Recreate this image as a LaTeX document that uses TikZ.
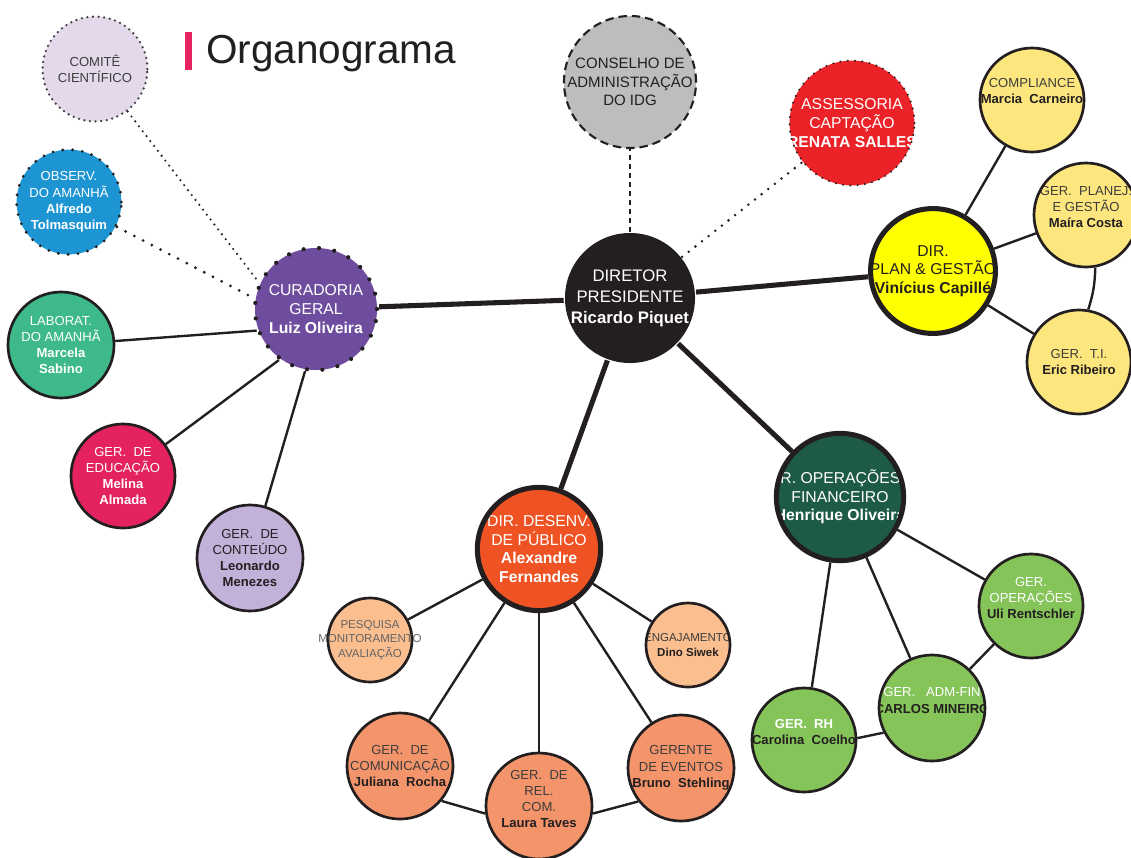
\documentclass[tikz,border=0pt]{standalone}
\usepackage{fontspec}
\setmainfont{Liberation Sans}
\usepackage{xcolor}
\usepackage{tikz}
\pgfdeclarelayer{bg}
\pgfsetlayers{bg,main}
\definecolor{linec}{HTML}{231F20}
\definecolor{cGrey}{HTML}{3D3D3D}
\definecolor{cBar}{HTML}{E6235F}
\definecolor{cCom}{HTML}{E3D9EB}
\definecolor{cObs}{HTML}{1E95D3}
\definecolor{cCur}{HTML}{6E4D9E}
\definecolor{cLab}{HTML}{3EBA8A}
\definecolor{cEdu}{HTML}{E4225F}
\definecolor{cCont}{HTML}{C2B1D9}
\definecolor{cCons}{HTML}{BBBDBF}
\definecolor{cAss}{HTML}{EB2227}
\definecolor{cYel}{HTML}{FDE67D}
\definecolor{cPlan}{HTML}{FFFF00}
\definecolor{cOps}{HTML}{1D5B47}
\definecolor{cGreen}{HTML}{85C459}
\definecolor{cDes}{HTML}{EF5323}
\definecolor{cPeach}{HTML}{FBBE8F}
\definecolor{cSalmon}{HTML}{F4946A}

\begin{document}
\begin{tikzpicture}[x = .025cm, y = -.025cm,
    fb/.style = {font = \fontsize{11.2}{13.3}\selectfont},
    fm/.style = {font = \fontsize{10.7}{13.2}\selectfont},
    fs/.style = {font = \fontsize{9.3}{11.6}\selectfont},
    ft/.style = {font = \fontsize{8.2}{10.4}\selectfont},
    orgbox/.style = {circle, draw = linec, line width = 1.9pt, inner sep = 0pt},
    dirbox/.style = {orgbox, line width = 3.6pt},
    say/.style 2 args = {path picture = {\node[align = center, inner sep = 0pt, #1] at (path picture bounding box.center) {#2};}},
    link/.style = {linec, line width = 1.7pt},
    mainlink/.style = {linec, line width = 3.6pt}]
    \useasboundingbox (0,0) rectangle (1131,857);
    \fill[cBar] (185,32) rectangle (192,70);
    \node[anchor = base west, inner sep = 0pt, text = linec, font = \fontsize{28.8}{32}\selectfont] (title) at (206,63) {Organograma};

    \node[orgbox, draw = cGrey, line width = 1.8pt, line cap = round, dash pattern = on 0pt off 4pt, fill = cCom, minimum size = 2.62cm, say = {text = cGrey, fs}{COMITÊ\\CIENTÍFICO}] (com) at (95,69) {};
    \node[orgbox, line width = 2.2pt, line cap = round, dash pattern = on 0pt off 7pt, fill = cObs, minimum size = 2.62cm, say = {text = white, fs}{OBSERV.\\DO AMANHÃ\\\textbf{Alfredo}\\\textbf{Tolmasquim}}] (obs) at (69,202) {};
    \node[orgbox, line width = 3pt, line cap = round, dash pattern = on 0pt off 11pt, fill = cCur, minimum size = 3.05cm, say = {text = white, fb}{CURADORIA\\GERAL\\\textbf{Luiz Oliveira}}] (cur) at (316,309) {};
    \node[orgbox, fill = cLab, minimum size = 2.65cm, say = {text = white, fs}{LABORAT.\\DO AMANHÃ\\\textbf{Marcela}\\\textbf{Sabino}}] (lab) at (61,345) {};
    \node[orgbox, fill = cEdu, minimum size = 2.6cm, say = {text = white, fs}{GER.~~DE\\EDUCAÇÃO\\\textbf{Melina}\\\textbf{Almada}}] (edu) at (123,476) {};
    \node[orgbox, fill = cCont, minimum size = 2.65cm, say = {text = linec, fs}{GER.~~DE\\CONTEÚDO\\\textbf{Leonardo}\\\textbf{Menezes}}] (cont) at (250,558) {};

    \node[orgbox, draw = none, fill = linec, minimum size = 3.25cm, say = {text = white, font = \fontsize{11.9}{14.9}\selectfont}{DIRETOR\\PRESIDENTE\\\textbf{Ricardo Piquet}}] (pres) at (630,298) {};
    \node[orgbox, line width = 1.5pt, dash pattern = on 6pt off 3.5pt, fill = cCons, minimum size = 3.3cm, say = {text = linec, fm}{CONSELHO DE\\ADMINISTRAÇÃO\\DO IDG}] (cons) at (630,82) {};
    \node[orgbox, line width = 1.6pt, line cap = round, dash pattern = on 0pt off 5.2pt, fill = cAss, minimum size = 3.12cm, say = {text = white, fb}{ASSESSORIA\\CAPTAÇÃO\\\textbf{RENATA SALLES}}] (ass) at (852,123) {};

    \node[dirbox, fill = cPlan, minimum size = 3.12cm, say = {text = linec, fb}{DIR.\\PLAN \& GESTÃO\\\textbf{Vinícius Capillé}}] (plan) at (933,271) {};
    \node[orgbox, fill = cYel, minimum size = 2.6cm, say = {text = cGrey, fs, yshift = .225cm}{COMPLIANCE\\\textcolor{linec}{\textbf{Marcia~~Carneiro}}}] (compl) at (1032,100) {};
    \node[orgbox, fill = cYel, minimum size = 2.6cm, say = {text = cGrey, fs, yshift = .2cm}{GER.~~PLANEJ.\\E GESTÃO\\\textcolor{linec}{\textbf{Maíra Costa}}}] (gpl) at (1086,215) {};
    \node[orgbox, fill = cYel, minimum size = 2.6cm, say = {text = cGrey, fs}{GER.~~T.I.\\\textcolor{linec}{\textbf{Eric Ribeiro}}}] (gti) at (1079,362) {};

    \node[dirbox, fill = cOps, minimum size = 3.18cm, say = {text = white, fb}{DIR. OPERAÇÕES E\\FINANCEIRO\\\textbf{Henrique Oliveira}}] (ops) at (840,497) {};
    \node[orgbox, fill = cGreen, minimum size = 2.6cm, say = {text = white, fs, yshift = .2cm}{GER.\\OPERAÇÕES\\\textcolor{linec}{\textbf{Uli Rentschler}}}] (gop) at (1031,606) {};
    \node[orgbox, fill = cGreen, minimum size = 2.65cm, say = {text = white, fs, yshift = .19cm}{GER.~~~ADM-FIN\\\textcolor{linec}{\textbf{CARLOS MINEIRO}}}] (adm) at (932,708) {};
    \node[orgbox, fill = cGreen, minimum size = 2.6cm, say = {text = white, fs, yshift = .2cm}{\textbf{GER.~~RH}\\\textcolor{linec}{\textbf{Carolina~~Coelho}}}] (rh) at (804,740) {};

    \node[dirbox, fill = cDes, minimum size = 3.08cm, say = {text = white, fb}{DIR. DESENV.\\DE PÚBLICO\\\textbf{Alexandre}\\\textbf{Fernandes}}] (des) at (539,549) {};
    \node[orgbox, fill = cPeach, minimum size = 2.1cm, label = {[align = center, inner sep = 0pt, text = cGrey!80, ft]center:PESQUISA\\MONITORAMENTO\\AVALIAÇÃO}] (pesq) at (370,640) {};
    \node[orgbox, fill = cPeach, minimum size = 2.1cm, say = {text = cGrey, ft}{ENGAJAMENTO\\\textcolor{linec}{\textbf{Dino Siwek}}}] (eng) at (688,645) {};
    \node[orgbox, fill = cSalmon, minimum size = 2.65cm, say = {text = cGrey, fs}{GER.~~DE\\COMUNICAÇÃO\\\textcolor{linec}{\textbf{Juliana~~Rocha}}}] (comm) at (400,766) {};
    \node[orgbox, fill = cSalmon, minimum size = 2.65cm, say = {text = cGrey, fs, yshift = .175cm}{GER.~~DE\\REL.\\COM.\\\textcolor{linec}{\textbf{Laura Taves}}}] (rel) at (539,806) {};
    \node[orgbox, fill = cSalmon, minimum size = 2.65cm, say = {text = cGrey, fs}{GERENTE\\DE EVENTOS\\\textcolor{linec}{\textbf{Bruno~~Stehling}}}] (evt) at (681,768) {};

    \begin{pgfonlayer}{bg}
    \draw[mainlink] (cur) -- (pres);
    \draw[mainlink] (pres) -- (plan);
    \draw[mainlink] (pres) -- (des);
    \draw[mainlink] (pres) -- (ops);
    \draw[linec, line width = 1.6pt, dash pattern = on 3.6pt off 2.8pt] (pres) -- (cons);
    \draw[linec, line width = 2pt, line cap = round, dash pattern = on 0pt off 6pt] (pres) -- (ass);
    \draw[linec, line width = 1.7pt, line cap = round, dash pattern = on 0pt off 4.4pt] (com) -- (cur.155);
    \draw[linec, line width = 2.2pt, line cap = round, dash pattern = on 0pt off 7pt] (obs) -- (cur.170);
    \draw[link] (lab) -- (cur.200);
    \draw[link] (edu) -- (cur.234);
    \draw[link] (cont) -- (cur.260);
    \draw[link] (plan) -- (compl);
    \draw[link] (plan) -- (gpl);
    \draw[link] (plan) -- (gti);
    \draw[link] (gpl.-80) to[bend left = 8] (gti.80);
    \draw[link] (ops) -- (gop);
    \draw[link] (ops) -- (adm);
    \draw[link] (ops) -- (rh);
    \draw[link] (gop) -- (adm);
    \draw[link] (adm.207) -- (rh.2);
    \draw[link] (des) -- (pesq);
    \draw[link] (des) -- (eng);
    \draw[link] (des) -- (comm);
    \draw[link] (des) -- (rel);
    \draw[link] (des) -- (evt);
    \draw[link] (comm.-40) -- (rel.188);
    \draw[link] (rel.-8) -- (evt.218);
    \end{pgfonlayer}
\end{tikzpicture}
\end{document}
